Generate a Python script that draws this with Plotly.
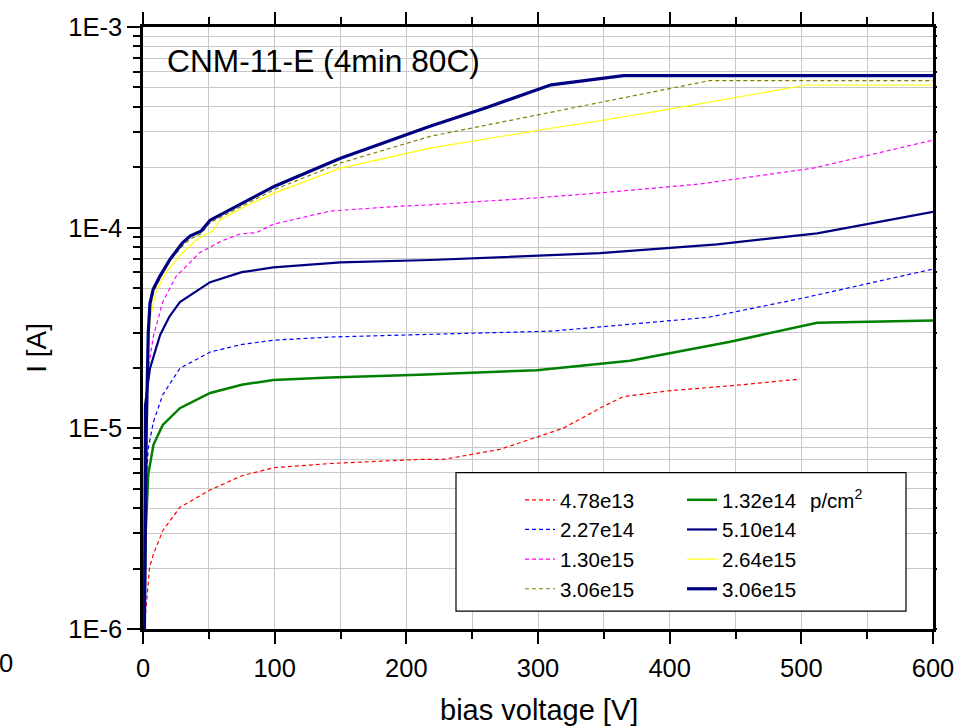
import plotly.graph_objects as go

FONT = "Liberation Sans, Arial, sans-serif"

# ---- data (bias voltage [V], current [A]) ----
red_v = [1, 2, 5, 8, 15, 28, 51, 75, 99, 142, 210, 228, 271, 299, 319, 350, 365, 400, 451, 499]
red_i = [8e-7, 1.2e-6, 2.03e-6, 2.37e-6, 3.09e-6, 4.04e-6, 4.93e-6, 5.8e-6, 6.36e-6, 6.68e-6, 7.0e-6, 7.0e-6, 7.85e-6, 9.0e-6, 1.0e-5, 1.29e-5, 1.44e-5, 1.54e-5, 1.64e-5, 1.76e-5]

green_v = [1, 2, 4, 8, 15, 28, 51, 75, 99, 142, 210, 299, 370, 446, 512, 600]
green_i = [9e-7, 3e-6, 5.9e-6, 8.3e-6, 1.04e-5, 1.26e-5, 1.50e-5, 1.65e-5, 1.74e-5, 1.79e-5, 1.85e-5, 1.95e-5, 2.17e-5, 2.7e-5, 3.36e-5, 3.45e-5]

blue_v = [1, 2, 4, 8, 15, 28, 51, 74, 99, 142, 200, 260, 310, 347, 430, 504, 600]
blue_i = [9e-7, 5e-6, 7.98e-6, 1.08e-5, 1.47e-5, 1.99e-5, 2.40e-5, 2.61e-5, 2.75e-5, 2.85e-5, 2.92e-5, 2.98e-5, 3.05e-5, 3.2e-5, 3.58e-5, 4.5e-5, 6.22e-5]

navy_v = [0.8, 1.5, 5.3, 13, 20, 28, 51, 75, 99, 150, 218, 310, 347, 436, 512, 600]
navy_i = [9e-7, 1.3e-5, 1.99e-5, 2.92e-5, 3.6e-5, 4.26e-5, 5.35e-5, 6.0e-5, 6.34e-5, 6.71e-5, 6.9e-5, 7.34e-5, 7.46e-5, 8.25e-5, 9.37e-5, 1.20e-4]

mag_v = [1, 2, 4, 8, 15, 25, 43, 60, 74, 86, 99, 142, 195, 218, 300, 347, 423, 509, 600]
mag_i = [9e-7, 8e-6, 2.0e-5, 2.9e-5, 4.26e-5, 5.7e-5, 7.5e-5, 8.6e-5, 9.3e-5, 9.44e-5, 1.04e-4, 1.21e-4, 1.28e-4, 1.30e-4, 1.41e-4, 1.49e-4, 1.65e-4, 1.98e-4, 2.73e-4]

yel_v = [1, 2.5, 4, 5.3, 10, 15, 20, 30, 40, 48, 53, 59, 80, 100, 150, 218, 310, 347, 400, 504, 600]
yel_i = [9e-7, 8e-6, 2.5e-5, 3.5e-5, 4.8e-5, 5.6e-5, 6.3e-5, 7.5e-5, 8.6e-5, 9.3e-5, 9.6e-5, 1.1e-4, 1.3e-4, 1.49e-4, 1.98e-4, 2.49e-4, 3.13e-4, 3.41e-4, 3.9e-4, 5.14e-4, 5.14e-4]

olive_v = [1, 2.5, 4, 5.3, 8, 13, 20, 30, 36, 44, 51, 60, 80, 100, 150, 218, 300, 430, 600]
olive_i = [9e-7, 9e-6, 2.8e-5, 4.0e-5, 4.8e-5, 5.6e-5, 6.8e-5, 8.1e-5, 8.8e-5, 9.3e-5, 1.06e-4, 1.14e-4, 1.33e-4, 1.55e-4, 2.1e-4, 2.85e-4, 3.66e-4, 5.4e-4, 5.4e-4]

thick_v = [1, 2.5, 4, 5.3, 7.8, 13, 20.5, 30, 36, 44, 51, 60, 80, 100, 150, 218, 260, 310, 365, 600]
thick_i = [9e-7, 1.0e-5, 3.0e-5, 4.2e-5, 4.95e-5, 5.75e-5, 6.95e-5, 8.4e-5, 9.1e-5, 9.6e-5, 1.09e-4, 1.17e-4, 1.38e-4, 1.61e-4, 2.22e-4, 3.2e-4, 3.95e-4, 5.15e-4, 5.72e-4, 5.72e-4]

names = ["4.78e13", "1.32e14", "2.27e14", "5.10e14", "1.30e15", "2.64e15", "3.06e15", "3.06e15"]

x_ticks = [0, 100, 200, 300, 400, 500, 600]
y_ticks = [1e-6, 1e-5, 1e-4, 1e-3]
y_ticktext = ["1E-6", "1E-5", "1E-4", "1E-3"]
y_minor = [m * 10.0 ** e for e in (-6, -5, -4) for m in range(2, 10)]

title_text = "CNM-11-E (4min 80C)"
x_title = "bias voltage [V]"
y_title = "I [A]"
unit_text = "p/cm<sup>2</sup>"

# ---- figure ----
fig = go.Figure()

DASH = "4px,3px"
series = [
    # (x, y, name, color, width, dash, legend, rank)
    (red_v, red_i, names[0], "#ff0000", 1.2, DASH, "legend", 1),
    (blue_v, blue_i, names[2], "#0000ff", 1.2, DASH, "legend", 2),
    (mag_v, mag_i, names[4], "#ff00ff", 1.2, DASH, "legend", 3),
    (olive_v, olive_i, names[6], "#808000", 1.2, DASH, "legend", 4),
    (green_v, green_i, names[1], "#008000", 2.5, "solid", "legend2", 1),
    (navy_v, navy_i, names[3], "#000080", 2.2, "solid", "legend2", 2),
    (yel_v, yel_i, names[5], "#ffff00", 1.2, "solid", "legend2", 3),
    (thick_v, thick_i, names[7], "#000080", 3.2, "solid", "legend2", 4),
]
for xv, yv, nm, col, w, dsh, lg, rk in series:
    fig.add_trace(go.Scatter(
        x=xv, y=yv, name=nm, mode="lines",
        line=dict(color=col, width=w, dash=dsh),
        legend=lg, legendrank=rk, cliponaxis=True,
    ))

# dummy trace for right-hand tick axis
fig.add_trace(go.Scatter(x=[None], y=[None], yaxis="y2", showlegend=False, hoverinfo="skip"))

L, R, T, B = 143, 39, 23, 99
W, H = 972, 728
PW, PH = W - L - R, H - T - B

def px(xp):
    return (xp - L) / PW

def py(yp):
    return (T + PH - yp) / PH

grid_col = "rgb(200,200,200)"
tickfont = dict(family=FONT, size=25.5, color="black")

fig.update_layout(
    width=W, height=H,
    margin=dict(l=L, r=R, t=T, b=B, pad=0),
    paper_bgcolor="white", plot_bgcolor="white",
    font=dict(family=FONT, color="black"),
    xaxis=dict(
        range=[0, 600], tickvals=x_ticks, ticktext=[str(v) for v in x_ticks],
        showline=True, linecolor="black", linewidth=2.5, mirror="ticks",
        ticks="outside", ticklen=12, tickwidth=2, tickcolor="black",
        showgrid=True, gridcolor=grid_col, gridwidth=1, zeroline=False,
        tickfont=tickfont, ticklabelstandoff=3,
        minor=dict(dtick=50, tick0=0, ticks="outside", ticklen=7, tickwidth=2,
                   tickcolor="black", showgrid=True, gridcolor=grid_col, gridwidth=1),
    ),
    yaxis=dict(
        type="log", range=[-6, -3], tickvals=y_ticks, ticktext=y_ticktext,
        showline=True, linecolor="black", linewidth=2.5, mirror=True,
        ticks="outside", ticklen=13, tickwidth=2, tickcolor="black",
        showgrid=True, gridcolor=grid_col, gridwidth=1, zeroline=False,
        tickfont=tickfont,
        minor=dict(tickmode="array", tickvals=y_minor, ticks="outside", ticklen=7, tickwidth=2,
                   tickcolor="black", showgrid=True, gridcolor=grid_col, gridwidth=1),
    ),
    yaxis2=dict(
        type="log", range=[-6, -3], overlaying="y", side="right",
        tickvals=y_ticks + y_minor, ticks="outside", ticklen=3, tickwidth=2,
        tickcolor="black", showticklabels=False, showgrid=False, showline=False,
        zeroline=False,
    ),
    legend=dict(
        x=px(520), y=py(479), xanchor="left", yanchor="top",
        bgcolor="rgba(0,0,0,0)", borderwidth=0,
        font=dict(family=FONT, size=20.5, color="black"),
        orientation="v", tracegroupgap=0,
    ),
    legend2=dict(
        x=px(682), y=py(479), xanchor="left", yanchor="top",
        bgcolor="rgba(0,0,0,0)", borderwidth=0,
        font=dict(family=FONT, size=20.5, color="black"),
        orientation="v", tracegroupgap=0,
    ),
    showlegend=True,
)

# legend frame
fig.add_shape(type="rect", xref="paper", yref="paper",
              x0=px(456), x1=px(906), y0=py(611), y1=py(471.5),
              fillcolor="white", line=dict(color="black", width=1.2), layer="above")

fig.add_annotation(text=unit_text, xref="paper", yref="paper", x=px(808), y=py(498),
                   xanchor="left", yanchor="middle", showarrow=False,
                   font=dict(family=FONT, size=20.5, color="black"))

fig.add_annotation(text=title_text, xref="paper", yref="paper", x=px(165), y=py(57),
                   xanchor="left", yanchor="middle", showarrow=False,
                   font=dict(family=FONT, size=31.7, color="black"))

fig.add_annotation(text=x_title, xref="paper", yref="paper", x=px(538.5), y=py(711),
                   xanchor="center", yanchor="middle", showarrow=False,
                   font=dict(family=FONT, size=29, color="black"))

fig.add_annotation(text=y_title, xref="paper", yref="paper", x=px(37), y=py(346),
                   xanchor="center", yanchor="middle", showarrow=False, textangle=-90,
                   font=dict(family=FONT, size=28, color="black"))

# stray "0" label at the far left of the original
fig.add_annotation(text="0", xref="paper", yref="paper", x=px(6), y=py(663),
                   xanchor="center", yanchor="middle", showarrow=False,
                   font=dict(family=FONT, size=25.5, color="black"))

fig.write_html("out.html", config={"displayModeBar": False},
               post_script="document.body.style.margin='0px';document.body.style.padding='0px';")
